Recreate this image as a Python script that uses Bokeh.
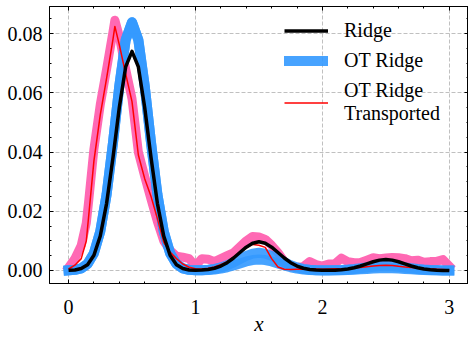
from bokeh.plotting import figure
from bokeh.models import (Range1d, FixedTicker, LinearAxis, Legend, LegendItem,
                          PrintfTickFormatter, CustomJSTickFormatter)
from bokeh.embed import file_html
from bokeh.resources import INLINE

# ---------------- data ----------------
x_grid = [0.00, 0.05, 0.10, 0.15, 0.20, 0.25, 0.30, 0.35, 0.40, 0.45,
          0.50, 0.55, 0.60, 0.65, 0.70, 0.75, 0.80, 0.85, 0.90, 0.95,
          1.00, 1.05, 1.10, 1.15, 1.20, 1.25, 1.30, 1.35, 1.40, 1.45,
          1.50, 1.55, 1.60, 1.65, 1.70, 1.75, 1.80, 1.85, 1.90, 1.95,
          2.00, 2.05, 2.10, 2.15, 2.20, 2.25, 2.30, 2.35, 2.40, 2.45,
          2.50, 2.55, 2.60, 2.65, 2.70, 2.75, 2.80, 2.85, 2.90, 2.95,
          3.00]

ridge = [0.00005, 0.00019, 0.00065, 0.00197, 0.00516, 0.01165, 0.02267, 0.03803, 0.05505, 0.06872,
         0.07400, 0.06872, 0.05505, 0.03803, 0.02267, 0.01165, 0.00516, 0.00197, 0.00065, 0.00019,
         0.00010, 0.00015, 0.00035, 0.00076, 0.00149, 0.00264, 0.00422, 0.00607, 0.00788, 0.00921,
         0.00970, 0.00921, 0.00788, 0.00607, 0.00422, 0.00264, 0.00149, 0.00076, 0.00035, 0.00014,
         0.00006, 0.00006, 0.00011, 0.00024, 0.00050, 0.00092, 0.00152, 0.00224, 0.00296, 0.00350,
         0.00370, 0.00350, 0.00296, 0.00224, 0.00152, 0.00092, 0.00050, 0.00024, 0.00011, 0.00004,
         0.00001]

ot_ridge_hi = [0.00005, 0.00021, 0.00074, 0.00223, 0.00584, 0.01319, 0.02567, 0.04307, 0.06234, 0.07783,
               0.08380, 0.07783, 0.06234, 0.04307, 0.02567, 0.01319, 0.00584, 0.00223, 0.00074, 0.00021,
               0.00010, 0.00012, 0.00026, 0.00055, 0.00103, 0.00177, 0.00275, 0.00387, 0.00494, 0.00571,
               0.00600, 0.00571, 0.00494, 0.00387, 0.00275, 0.00177, 0.00103, 0.00055, 0.00026, 0.00012,
               0.00007, 0.00006, 0.00009, 0.00018, 0.00032, 0.00051, 0.00075, 0.00102, 0.00126, 0.00144,
               0.00150, 0.00144, 0.00126, 0.00102, 0.00075, 0.00051, 0.00032, 0.00018, 0.00009, 0.00004,
               0.00002]

ot_ridge_lo = [0.00005, 0.00021, 0.00074, 0.00223, 0.00584, 0.01319, 0.02567, 0.04307, 0.06234, 0.07783,
               0.08380, 0.07783, 0.06234, 0.04307, 0.02567, 0.01319, 0.00584, 0.00223, 0.00074, 0.00021,
               0.00008, 0.00007, 0.00016, 0.00034, 0.00064, 0.00109, 0.00169, 0.00238, 0.00305, 0.00352,
               0.00370, 0.00352, 0.00305, 0.00238, 0.00169, 0.00109, 0.00064, 0.00034, 0.00016, 0.00007,
               0.00004, 0.00004, 0.00005, 0.00010, 0.00017, 0.00027, 0.00040, 0.00054, 0.00067, 0.00077,
               0.00080, 0.00077, 0.00067, 0.00054, 0.00040, 0.00027, 0.00017, 0.00010, 0.00005, 0.00002,
               0.00001]

x_transp = [0.00, 0.05, 0.10, 0.14, 0.16, 0.20, 0.25, 0.30, 0.35, 0.365,
            0.40, 0.45, 0.50, 0.55, 0.60, 0.65, 0.70, 0.75, 0.80, 0.85,
            0.90, 0.95, 1.00, 1.05, 1.10, 1.15, 1.20, 1.25, 1.30, 1.35,
            1.40, 1.45, 1.50, 1.55, 1.60, 1.65, 1.70, 1.75, 1.80, 1.85,
            1.90, 1.95, 2.00, 2.05, 2.10, 2.15, 2.20, 2.25, 2.30, 2.35,
            2.40, 2.45, 2.50, 2.55, 2.60, 2.65, 2.70, 2.75, 2.80, 2.85,
            2.90, 2.95, 3.00]

transported = [0.0005, 0.0018, 0.0040, 0.0100, 0.0190, 0.0370, 0.0525, 0.0649, 0.0780, 0.0824,
               0.0762, 0.0664, 0.0570, 0.0390, 0.0310, 0.0250, 0.0175, 0.0095, 0.0062, 0.0040,
               0.0022, 0.0011, 0.0006, 0.0005, 0.0008, 0.0012, 0.0020, 0.0030, 0.0045, 0.0062,
               0.0078, 0.0088, 0.0085, 0.0078, 0.0040, 0.0012, 0.0004, 0.0003, 0.0004, 0.0005,
               0.0004, 0.0005, 0.0004, 0.0005, 0.0006, 0.0005, 0.0006, 0.0008, 0.0010, 0.0013,
               0.0015, 0.0017, 0.0018, 0.0017, 0.0014, 0.0012, 0.0010, 0.0008, 0.0006, 0.0005,
               0.0004, 0.0003, 0.0002]

transported_samples = [0.0010, 0.0040, 0.0085, 0.0160, 0.0240, 0.0410, 0.0560, 0.0680, 0.0805, 0.0845,
                       0.0790, 0.0680, 0.0580, 0.0400, 0.0318, 0.0240, 0.0165, 0.0100, 0.0068, 0.0048,
                       0.0045, 0.0040, 0.0015, 0.0040, 0.0038, 0.0030, 0.0040, 0.0050, 0.0060, 0.0080,
                       0.0100, 0.0115, 0.0113, 0.0105, 0.0085, 0.0060, 0.0030, 0.0015, 0.0010, 0.0013,
                       0.0030, 0.0020, 0.0015, 0.0022, 0.0023, 0.0042, 0.0030, 0.0026, 0.0027, 0.0035,
                       0.0043, 0.0040, 0.0042, 0.0044, 0.0043, 0.0040, 0.0033, 0.0035, 0.0028, 0.0030,
                       0.0031, 0.0037, 0.0015]

x_ticks = [0, 1, 2, 3]
x_minor = [0.2, 0.4, 0.6, 0.8, 1.2, 1.4, 1.6, 1.8, 2.2, 2.4, 2.6, 2.8]
y_ticks = [0.00, 0.02, 0.04, 0.06, 0.08]
y_minor = [0.005, 0.010, 0.015, 0.025, 0.030, 0.035, 0.045, 0.050, 0.055,
           0.065, 0.070, 0.075, 0.085]

# ---------------- figure ----------------
FONT = "Liberation Serif"

p = figure(width=468, height=338,
           x_range=Range1d(-0.15, 3.151), y_range=Range1d(-0.00439, 0.08912),
           output_backend="svg", toolbar_location=None,
           min_border_left=49, min_border_right=0, min_border_top=6, min_border_bottom=40,
           background_fill_color="white", border_fill_color="white",
           outline_line_color="black", outline_line_width=1)

bottom_axis = p.below[0]
left_axis = p.left[0]

xticker = FixedTicker(ticks=x_ticks, minor_ticks=x_minor)
yticker = FixedTicker(ticks=y_ticks, minor_ticks=y_minor)

bottom_axis.ticker = xticker
left_axis.ticker = yticker
bottom_axis.formatter = PrintfTickFormatter(format="%d")
left_axis.formatter = PrintfTickFormatter(format="%.2f")

p.xgrid.ticker = xticker
p.ygrid.ticker = yticker
p.grid.grid_line_color = "#b0b0b0"
p.grid.grid_line_dash = "4 2"
p.grid.grid_line_width = 0.8

blank = CustomJSTickFormatter(code="return '';")
top_axis = LinearAxis(ticker=xticker, formatter=blank, major_label_text_font_size="1px",
                      major_label_standoff=0)
right_axis = LinearAxis(ticker=yticker, formatter=blank, major_label_text_font_size="1px",
                        major_label_standoff=0)
p.add_layout(top_axis, "above")
p.add_layout(right_axis, "right")

for ax in [bottom_axis, left_axis, top_axis, right_axis]:
    ax.major_tick_in = 4
    ax.major_tick_out = 0
    ax.minor_tick_in = 2
    ax.minor_tick_out = 0
    ax.axis_line_color = "black"
    ax.axis_line_width = 1
    ax.major_tick_line_color = "black"
    ax.minor_tick_line_color = "black"
    ax.major_label_text_font = FONT
    ax.major_label_text_color = "black"

bottom_axis.major_label_text_font_size = "20px"
left_axis.major_label_text_font_size = "20px"
bottom_axis.major_label_standoff = 16
left_axis.major_label_standoff = 7

bottom_axis.axis_label = "x"
bottom_axis.axis_label_text_font = FONT
bottom_axis.axis_label_text_font_style = "italic"
bottom_axis.axis_label_text_font_size = "21px"
bottom_axis.axis_label_text_color = "black"
bottom_axis.axis_label_standoff = -5

# ---------------- curves ----------------
r_samples = p.line(x_transp, transported_samples, line_color="#ff69b4", line_width=9,
                   line_join="round", line_cap="square")
r_ot_lo = p.line(x_grid, ot_ridge_lo, line_color="#3399ff", line_width=10, line_alpha=0.9,
                 line_join="round", line_cap="square")
r_ot_hi = p.line(x_grid, ot_ridge_hi, line_color="#3399ff", line_width=10, line_alpha=0.9,
                 line_join="round", line_cap="square")
r_tr = p.line(x_transp, transported, line_color="#ff0000", line_width=1.5, line_join="round")
r_ridge = p.line(x_grid, ridge, line_color="black", line_width=3.5, line_join="round")

legend = Legend(items=[
    LegendItem(label="Ridge", renderers=[r_ridge]),
    LegendItem(label="OT Ridge", renderers=[r_ot_hi]),
    LegendItem(label="OT Ridge\nTransported", renderers=[r_tr]),
], location=(235, 158))
legend.glyph_width = 44
legend.glyph_height = 23
legend.label_standoff = 16
legend.spacing = 7
legend.padding = 0
legend.margin = 0
legend.border_line_alpha = 0
legend.background_fill_alpha = 0
legend.label_text_font = FONT
legend.label_text_font_size = "20px"
legend.label_text_color = "black"
p.add_layout(legend, "center")

open("out.html", "w").write(file_html(p, INLINE))
